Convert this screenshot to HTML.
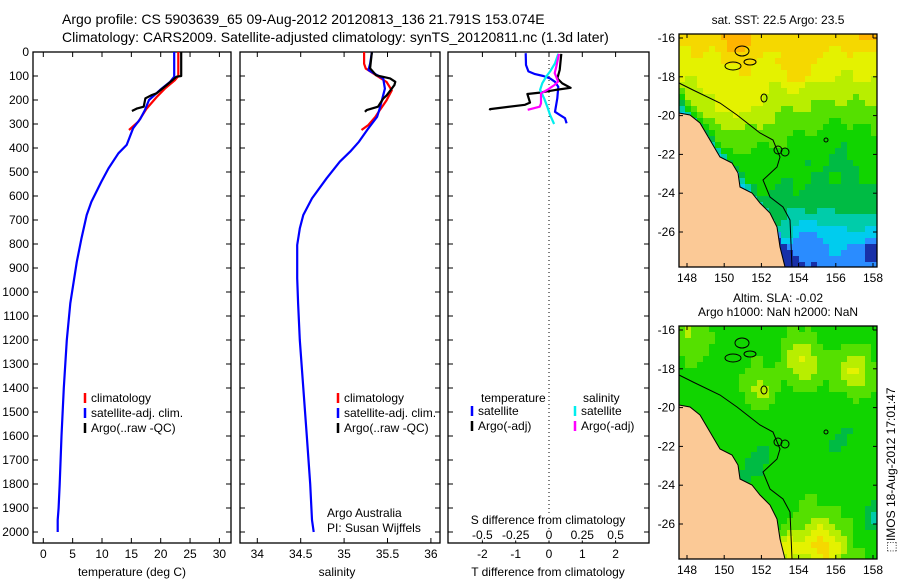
<!DOCTYPE html>
<html><head><meta charset="utf-8">
<style>
html,body{margin:0;padding:0;background:#fff;}
svg{display:block;font-family:"Liberation Sans",sans-serif;}
text{fill:#000;}
</style></head>
<body>
<svg id="fig" width="900" height="580" viewBox="0 0 900 580" xmlns="http://www.w3.org/2000/svg">
<text x="62" y="24" font-size="14">Argo profile: CS 5903639_65 09-Aug-2012 20120813_136 21.791S 153.074E</text>
<text x="62" y="42" font-size="14">Climatology: CARS2009. Satellite-adjusted climatology: synTS_20120811.nc (1.3d later)</text>
<g id="p1"></g>
<g id="p2"></g>
<g id="p3"></g>
<g id="m1"></g>
<g id="m2"></g>
<text x="778" y="24" font-size="12" text-anchor="middle">sat. SST: 22.5 Argo: 23.5</text>
<text x="778" y="302" font-size="12" text-anchor="middle">Altim. SLA: -0.02</text>
<text x="778" y="316" font-size="12" text-anchor="middle">Argo h1000: NaN h2000: NaN</text>
<text transform="translate(895,470) rotate(-90)" font-size="12" text-anchor="middle">⬚IMOS 18-Aug-2012 17:01:47</text>
</svg>
<script>
// ---- data ----
const depthTicks=[0,100,200,300,400,500,600,700,800,900,1000,1100,1200,1300,1400,1500,1600,1700,1800,1900,2000];
const tempTicks=[0,5,10,15,20,25,30];
const salTicks=[34,34.5,35,35.5,36];
const tdiffTicks=[-2,-1,0,1,2];
const sdiffTicks=[-0.5,-0.25,0,0.25,0.5];
const sdiffLabels=["-0.5","-0.25","0","0.25","0.5"];
// temperature
const tSatDepth=[0,103,124,158,200,242,279,318,387,422,485,540,624,679,776,874,999,1047,1200,1400,1600,1800,1900,1950,2000];
const tSat=[22.3,22.3,21.6,19.9,18.0,17.3,16.5,15.3,14.2,12.8,11.1,9.9,8.2,7.4,6.5,5.7,4.9,4.6,4.0,3.5,3.1,2.8,2.6,2.45,2.45];
const tClimDepth=[0,100,118,153,188,236,290,325];
const tClim=[23.0,23.0,22.4,20.7,19.3,17.6,16.2,14.6];
const tArgoDepth=[0,100,103,138,172,179,193,228,235,246];
const tArgo=[23.5,23.5,22.7,21.0,19.3,18.5,17.4,17.1,16.0,15.1];
// salinity
const sSatDepth=[0,49,75,92,110,153,236,270,318,374,415,457,526,610,679,735,804,943,1047,1200,1400,1600,1800,1950,2000];
const sSat=[35.32,35.30,35.28,35.36,35.45,35.47,35.41,35.38,35.28,35.17,35.07,34.95,34.80,34.63,34.53,34.49,34.46,34.46,34.47,34.49,34.53,34.57,34.61,34.63,34.65];
const sClimDepth=[0,49,69,97,125,160,201,243,271,304,325];
const sClim=[35.23,35.23,35.25,35.37,35.49,35.55,35.49,35.41,35.36,35.28,35.20];
const sArgoDepth=[0,68,97,110,124,138,181,194,228,242,249];
const sArgo=[35.32,35.30,35.37,35.53,35.59,35.58,35.49,35.45,35.39,35.26,35.24];
// differences
const dTSatDepth=[5,54,81,92,100,110,124,145,193,249,263,276,297];
const dTSat=[-0.70,-0.69,-0.62,-0.42,-0.17,0.03,0.18,0.28,0.25,0.18,0.33,0.48,0.53];
const dTArgoDepth=[8,75,110,131,149,158,169,175,211,220,238,243];
const dTArgo=[0.37,0.32,0.25,0.40,0.65,0.20,-0.27,-0.65,-0.57,-0.72,-1.77,-1.78];
const dSSatDepth=[8,47,81,102,130,158,193,228,263,300];
const dSSat=[0.07,0.045,0.008,-0.02,-0.05,-0.067,-0.037,-0.013,0.008,0.038];
const dSArgoDepth=[8,61,88,123,137,158,172,214,228,241];
const dSArgo=[0.075,0.055,0.043,0.068,0.043,-0.013,-0.06,-0.06,-0.07,-0.16];
const lonTicks=[148,150,152,154,156,158];
const latTicks=[-16,-18,-20,-22,-24,-26];

const NS="http://www.w3.org/2000/svg";
function mk(parent,tag,attrs,txt){const e=document.createElementNS(NS,tag);for(const k in attrs)e.setAttribute(k,attrs[k]);if(txt!==undefined)e.textContent=txt;parent.appendChild(e);return e;}
const Y0=52,Y1=543;
function yD(d){return Y0+0.24*d;}
function xT(t){return 43.3+5.87*t;}
function xS(s){return 257.3+86.8*(s-34);}
function xDT(t){return 549+33.3*t;}
function xDS(s){return 549+133.2*s;}

function box(g,x0,x1,name,leftLabels){
  const r=mk(g,'rect',{x:x0,y:Y0,width:x1-x0,height:Y1-Y0,fill:'none',stroke:'#000','stroke-width':1.3});
  
  
  depthTicks.forEach(d=>{
    const y=yD(d);
    const t1=mk(g,'line',{x1:x0,x2:x0+5,y1:y,y2:y,stroke:'#000'});
    
    
    const t2=mk(g,'line',{x1:x1-5,x2:x1,y1:y,y2:y,stroke:'#000'});
    
    
    if(leftLabels){
      const l=mk(g,'text',{x:x0-4,y:y+4,'font-size':12,'text-anchor':'end'},String(d));
      
      
    }
  });
}
function xticks(g,vals,fx,labels,name){
  vals.forEach((v,i)=>{
    const x=fx(v);
    const a=mk(g,'line',{x1:x,x2:x,y1:Y0,y2:Y0+5,stroke:'#000'});
    
    
    const b=mk(g,'line',{x1:x,x2:x,y1:Y1-5,y2:Y1,stroke:'#000'});
    
    
    const t=mk(g,'text',{x:x,y:558,'font-size':12,'text-anchor':'middle'},labels?labels[i]:String(v));
    
    
  });
}
function line(g,xs,ds,fx,color,name){
  const pts=xs.map((v,i)=>fx(v).toFixed(1)+','+yD(ds[i]).toFixed(1)).join(' ');
  const p=mk(g,'polyline',{points:pts,fill:'none',stroke:color,'stroke-width':2.2,'stroke-linejoin':'round'});
  
  
}
function legend(g,x,y,color,label,name){
  const l=mk(g,'line',{x1:x,x2:x,y1:y-9,y2:y+1,stroke:color,'stroke-width':2.5});
  
  
  const t=mk(g,'text',{x:x+6,y:y,'font-size':12},label);
  
  
}
// panel 1
const p1=document.getElementById('p1');
box(p1,33,231,'temperature-panel',true);
xticks(p1,tempTicks,xT,null,'temperature-axis');
line(p1,tClim,tClimDepth,xT,'#f00','temp-climatology-line');
line(p1,tSat,tSatDepth,xT,'#00f','temp-satellite-line');
line(p1,tArgo,tArgoDepth,xT,'#000','temp-argo-line');
legend(p1,85,402,'#f00','climatology','legend-climatology');
legend(p1,85,417,'#00f','satellite-adj. clim.','legend-satellite');
legend(p1,85,432,'#000','Argo(..raw -QC)','legend-argo');
let tt=mk(p1,'text',{x:132,y:576,'font-size':12,'text-anchor':'middle'},'temperature (deg C)');

// panel 2
const p2=document.getElementById('p2');
box(p2,240,440,'salinity-panel',false);
xticks(p2,salTicks,xS,null,'salinity-axis');
line(p2,sClim,sClimDepth,xS,'#f00','sal-climatology-line');
line(p2,sSat,sSatDepth,xS,'#00f','sal-satellite-line');
line(p2,sArgo,sArgoDepth,xS,'#000','sal-argo-line');
legend(p2,338,402,'#f00','climatology','legend-climatology');
legend(p2,338,417,'#00f','satellite-adj. clim.','legend-satellite');
legend(p2,338,432,'#000','Argo(..raw -QC)','legend-argo');
tt=mk(p2,'text',{x:327,y:517,'font-size':12},'Argo Australia');

tt=mk(p2,'text',{x:327,y:532,'font-size':12},'PI: Susan Wijffels');

tt=mk(p2,'text',{x:337,y:576,'font-size':12,'text-anchor':'middle'},'salinity');

// panel 3
const p3=document.getElementById('p3');
box(p3,448,649,'difference-panel',false);
xticks(p3,tdiffTicks,xDT,null,'tdiff-axis');
const zl=mk(p3,'line',{x1:549,x2:549,y1:Y0,y2:Y1,stroke:'#000','stroke-dasharray':'1,3'});

sdiffTicks.forEach((v,i)=>{
  const t=mk(p3,'text',{x:xDS(v),y:539,'font-size':12,'text-anchor':'middle','style':'paint-order:stroke','stroke':'#fff','stroke-width':3},sdiffLabels[i]);
  
  
});
tt=mk(p3,'text',{x:548,y:524,'font-size':12,'text-anchor':'middle','style':'paint-order:stroke','stroke':'#fff','stroke-width':3},'S difference from climatology');

tt=mk(p3,'text',{x:548,y:576,'font-size':12,'text-anchor':'middle'},'T difference from climatology');

line(p3,dTSat,dTSatDepth,xDT,'#00f','tdiff-satellite-line');
line(p3,dTArgo,dTArgoDepth,xDT,'#000','tdiff-argo-line');
line(p3,dSSat,dSSatDepth,xDS,'#0ee','sdiff-satellite-line');
line(p3,dSArgo,dSArgoDepth,xDS,'#f0f','sdiff-argo-line');
tt=mk(p3,'text',{x:481,y:402,'font-size':12},'temperature');

tt=mk(p3,'text',{x:583,y:402,'font-size':12},'salinity');

legend(p3,472,415,'#00f','satellite','legend-t-satellite');
legend(p3,472,430,'#000','Argo(-adj)','legend-t-argo');
legend(p3,575,415,'#0ee','satellite','legend-s-satellite');
legend(p3,575,430,'#f0f','Argo(-adj)','legend-s-argo');

// ---- maps ----
function g2(u,w,cu,cw,r){const du=u-cu,dw=w-cw;return Math.exp(-(du*du+dw*dw)/(r*r));}
function cmap(v){
  if(v>0.8)return '#ffb400';if(v>0.72)return '#f5d800';if(v>0.64)return '#e4f200';
  if(v>0.56)return '#b8ee00';if(v>0.47)return '#55e000';if(v>0.38)return '#11d400';
  if(v>0.31)return '#00bb44';if(v>0.24)return '#00ccaa';if(v>0.16)return '#00ccee';
  if(v>0.07)return '#2a8cff';return '#1830a8';
}
function coastW(u){return 0.34+1.25*u;}
function sst(u,w){
  let v;
  if(w<0.55) v=0.76-0.62*w;
  else if(w<0.72) v=0.419-0.4*(w-0.55);
  else v=0.351-0.9*(w-0.72);
  v+=0.1*g2(u,w,0.3,0.3,0.16);
  v+=0.12*g2(u,w,0.3,0.02,0.08)+0.12*g2(u,w,0.6,0.16,0.07)+0.1*g2(u,w,0.96,0.01,0.06);
  v-=0.08*g2(u,w,0.8,0.45,0.15);
  v+=0.06*g2(u,w,0.5,0.85,0.08);
  v-=0.08*g2(u,w,0.65,0.88,0.1)+0.2*g2(u,w,0.98,0.92,0.05);
  const dc=coastW(u)-w;
  if(dc<0.14)v-=(0.14-dc)*3.0;
  v+=0.025*Math.sin(u*37+w*11)*Math.cos(w*29+u*5);
  return v;
}
function sla(u,w){
  let v=0.44;
  v+=0.2*g2(u,w,0.62,0.15,0.1)+0.2*g2(u,w,0.88,0.2,0.09)+0.14*g2(u,w,0.4,0.27,0.08);
  v+=0.3*g2(u,w,0.72,0.95,0.13)+0.25*g2(u,w,0.55,0.95,0.06)+0.12*g2(u,w,0.05,0.05,0.1);
  v-=0.15*g2(u,w,1.0,0.82,0.08);
  v-=0.08*g2(u,w,0.35,0.6,0.15)+0.07*g2(u,w,0.8,0.5,0.12);
  v+=0.025*Math.sin(u*31+w*13)*Math.cos(w*23+u*7);
  return v;
}
const coastPts=[[679,113],[690,115],[700,123],[710,140],[720,157],[732,163],[738,173],[740,187],[752,193],[760,203],[770,213],[777,227],[780,247],[785,267]];
const isoPts=[[679,83],[693,90],[720,103],[737,115],[760,133],[773,140],[780,157],[777,167],[763,180],[770,197],[783,207],[790,220],[792,267]];
function drawMap(id,top,field,name){
  const g=document.getElementById(id);
  const X0=679,X1=877,H=233,cs=6;
  for(let y=top;y<top+H;y+=cs){for(let x=X0;x<X1;x+=cs){
    const u=(x+3-X0)/(X1-X0),w=(y+3-top)/H;
    const c=mk(g,'rect',{x:x,y:y,width:Math.min(cs,X1-x),height:Math.min(cs,top+H-y),fill:cmap(field(u,w))});
    
    
  }}
  const off=top-34;
  const land=coastPts.map(p=>p[0]+','+(p[1]+off)).join(' ')+' 679,'+(top+H);
  const lp=mk(g,'polygon',{points:land,fill:'#fbc996',stroke:'#000','stroke-width':1});
  
  
  const ip=mk(g,'polyline',{points:isoPts.map(p=>p[0]+','+(p[1]+off)).join(' '),fill:'none',stroke:'#000','stroke-width':1});
  
  
  [[742,51,7,5],[733,66,8,4],[750,62,6,3],[764,98,3,4],[778,150,4,4],[785,152,4,4],[826,140,2,2]].forEach(r=>{
    const e=mk(g,'ellipse',{cx:r[0],cy:r[1]+off,rx:r[2],ry:r[3],fill:'none',stroke:'#000','stroke-width':1});
    
    
  });
  const fr=mk(g,'rect',{x:X0,y:top,width:X1-X0,height:H,fill:'none',stroke:'#000','stroke-width':1.3});
  
  
  lonTicks.forEach(lo=>{
    const x=687+18.6*(lo-148);
    const t=mk(g,'line',{x1:x,x2:x,y1:top,y2:top+4,stroke:'#000'});
    
    const b=mk(g,'line',{x1:x,x2:x,y1:top+H-4,y2:top+H,stroke:'#000'});
    
    const l=mk(g,'text',{x:x,y:top+H+15,'font-size':12,'text-anchor':'middle'},String(lo));
    
  });
  latTicks.forEach(la=>{
    const y=top+4+19.4*(-16-la);
    const t=mk(g,'line',{x1:X0,x2:X0+4,y1:y,y2:y,stroke:'#000'});
    
    const b=mk(g,'line',{x1:X1-4,x2:X1,y1:y,y2:y,stroke:'#000'});
    
    const l=mk(g,'text',{x:X0-4,y:y+4,'font-size':12,'text-anchor':'end'},String(la));
    
  });
}
drawMap('m1',34,sst,'sst-map');
drawMap('m2',326,sla,'sla-map');
</script>
</body></html>
